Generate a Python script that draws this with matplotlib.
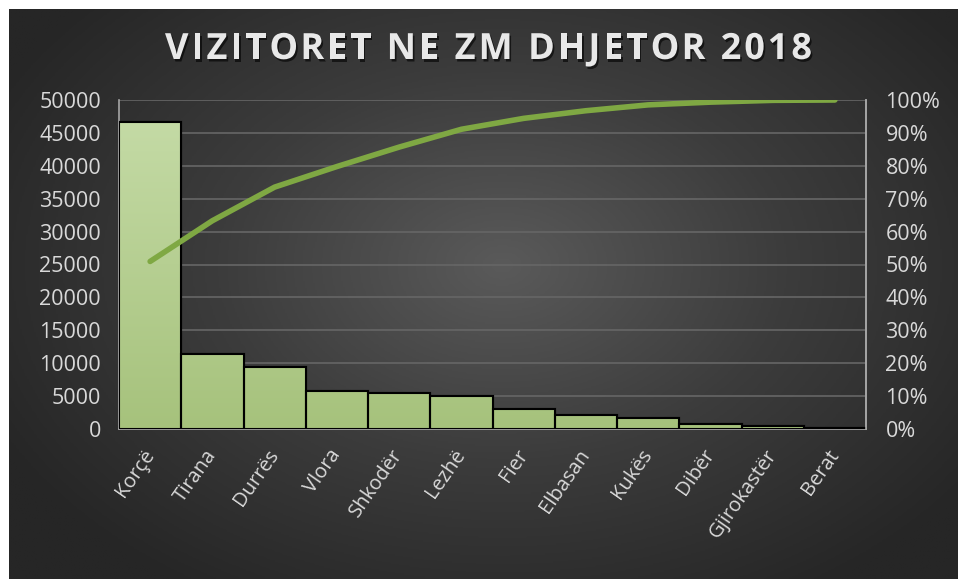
import matplotlib
matplotlib.use('Agg')
import matplotlib.pyplot as plt
import matplotlib.patheffects as pe
import numpy as np
from matplotlib.colors import LinearSegmentedColormap

# data
cities = ["Korçë", "Tirana", "Durrës", "Vlora", "Shkodër", "Lezhë", "Fier",
          "Elbasan", "Kukës", "Dibër", "Gjirokastër", "Berat"]
visitors = [46700, 11350, 9370, 5730, 5420, 4970, 3040, 2130, 1630, 760, 500, 100]
left_ticks = [0, 5000, 10000, 15000, 20000, 25000, 30000, 35000, 40000, 45000, 50000]
right_ticks = [0, 10, 20, 30, 40, 50, 60, 70, 80, 90, 100]
title = "VIZITORET NE ZM DHJETOR 2018"

W, H = 958, 579
fig = plt.figure(figsize=(W / 100, H / 100), dpi=100, facecolor="white")

# dark radial gradient panel
bg = fig.add_axes([9 / W, 0, 1 - 9 / W, 1 - 9 / H])
bg.set_axis_off()
yy, xx = np.mgrid[0:1:400j, 0:1:600j]
r = np.sqrt(((xx - 0.52) / 0.75) ** 2 + ((yy - 0.45) / 0.85) ** 2)
bg_cmap = LinearSegmentedColormap.from_list("bg", ["#5a5a5a", "#3c3c3c", "#262626"])
bg.imshow(r, cmap=bg_cmap, vmin=0, vmax=0.8, aspect="auto", extent=[0, 1, 0, 1])
bg.set_xlim(0, 1)
bg.set_ylim(0, 1)

fc = "#d9d9d9"
font = "Open Sans"

ax = fig.add_axes([119 / W, 1 - 429 / H, (866 - 119) / W, (429 - 100) / H])
ax.set_facecolor("none")
x = np.arange(len(cities))
bars = ax.bar(x, visitors, width=1.0, color="#b2cc8c", edgecolor="black",
              linewidth=1.5, zorder=3)

# vertical gradient fill on the bars
grad_cmap = LinearSegmentedColormap.from_list("g", ["#a6c27c", "#c6dca8"])
grad = np.linspace(0, 1, 256).reshape(-1, 1)
for b in bars:
    im = ax.imshow(grad, cmap=grad_cmap, aspect="auto", origin="lower",
                   extent=[-0.5, len(cities) - 0.5, 0, 50000], zorder=3.5)
    im.set_clip_path(b)
    ax.bar(b.get_x() + b.get_width() / 2, b.get_height(), width=1.0,
           fill=False, edgecolor="black", linewidth=1.5, zorder=4)

ax.set_xlim(-0.5, len(cities) - 0.5)
ax.set_ylim(0, 50000)
ax.set_yticks(left_ticks)
ax.set_yticklabels([str(v) for v in left_ticks], color=fc, fontsize=15.5, family=font)
ax.grid(axis="y", color="#666666", linewidth=1.2, zorder=0)
ax.set_xticks(x)
ax.set_xticklabels(cities, rotation=55, ha="right", va="center", rotation_mode="anchor",
                   color=fc, fontsize=14.5, family=font)
ax.tick_params(axis="y", length=0, pad=13)
ax.tick_params(axis="x", length=0, pad=16)
ax.spines["top"].set_visible(False)
for s in ["left", "right", "bottom"]:
    ax.spines[s].set_color("#a6a6a6")
    ax.spines[s].set_linewidth(1.2)

# cumulative percentage
cum = np.cumsum(visitors) / np.sum(visitors) * 100
ax2 = ax.twinx()
ax2.plot(x, cum, color="#7fa843", linewidth=4, solid_capstyle="round", zorder=5)
ax2.set_ylim(0, 100)
ax2.set_yticks(right_ticks)
ax2.set_yticklabels([f"{v}%" for v in right_ticks], color=fc, fontsize=15.5, family=font)
ax2.tick_params(length=0, pad=14)
for s in ["top", "left", "bottom"]:
    ax2.spines[s].set_visible(False)
ax2.spines["right"].set_color("#a6a6a6")
ax2.spines["right"].set_linewidth(1.2)

# title, letter spaced, with a soft shadow
renderer = fig.canvas.get_renderer()
tkw = dict(fontsize=26, fontweight="bold", family=font)
def width_px(s):
    t = fig.text(0, 0, s + "I", **tkw)
    w = t.get_window_extent(renderer).width
    t.remove()
    t = fig.text(0, 0, "I", **tkw)
    w -= t.get_window_extent(renderer).width
    t.remove()
    return w

shadow = [pe.SimplePatchShadow(offset=(1.2, -1.8), shadow_rgbFace="#000000", alpha=0.6),
          pe.Normal()]
x0, x1 = 165, 812
natural = width_px(title)
gap = (x1 - x0 - natural) / (len(title) - 1)
ty = 1 - 50 / H
for i, ch in enumerate(title):
    if ch == " ":
        continue
    px = x0 + width_px(title[:i]) + i * gap
    fig.text(px / W, ty, ch, ha="left", va="center", color="#e8e8e8",
             path_effects=shadow, **tkw)

fig.savefig("out.png", dpi=100, facecolor="white")
